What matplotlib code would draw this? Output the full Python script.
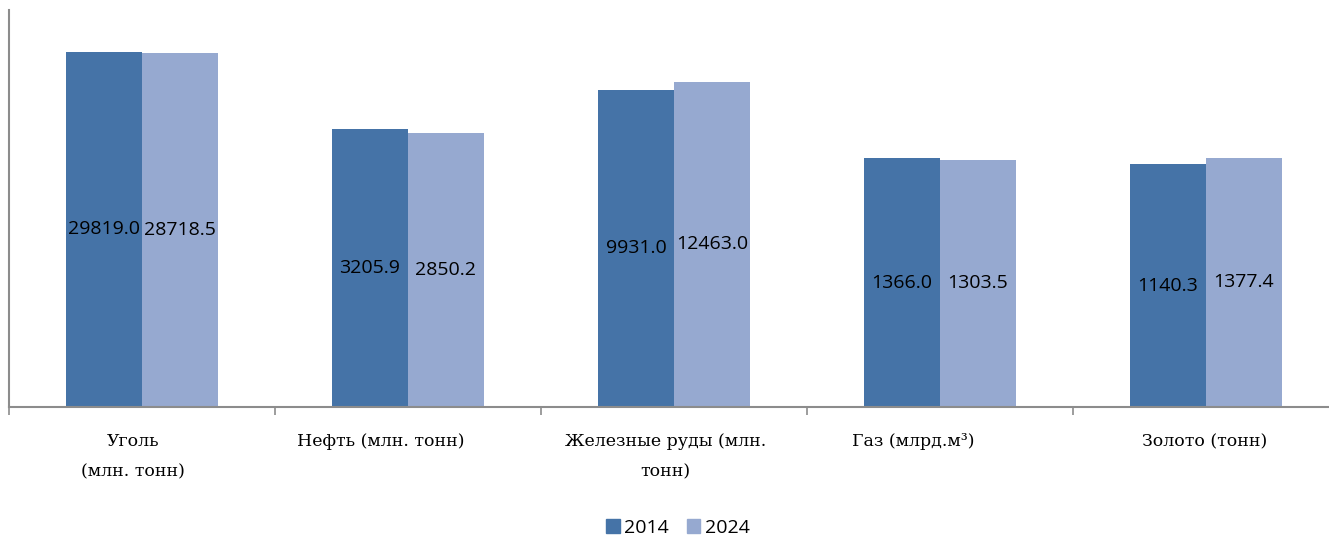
import matplotlib
matplotlib.use("Agg")
import matplotlib.pyplot as plt
import numpy as np
from matplotlib.patches import Patch

categories = ["Уголь\n(млн. тонн)", "Нефть (млн. тонн)", "Железные руды (млн.\nтонн)",
              "Газ (млрд.м³)", "Золото (тонн)"]
series_names = ["2014", "2024"]
values_2014 = [29819.0, 3205.9, 9931.0, 1366.0, 1140.3]
values_2024 = [28718.5, 2850.2, 12463.0, 1303.5, 1377.4]

colors = ["#4573A7", "#96A9D0"]
label_dx_px = [-9, -27, -8.5, -27, -1.5]

W, H = 1329, 537
fig = plt.figure(figsize=(W / 100, H / 100), dpi=100)
ax = fig.add_axes([9 / W, 1 - 407 / H, 1330 / W, 397 / H])

x = np.arange(len(categories))
bw = 76 / 266
for i, (vals, c) in enumerate(zip([values_2014, values_2024], colors)):
    xs = x + (i - 0.5) * bw
    ax.bar(xs, vals, width=bw, color=c, bottom=0, zorder=2, linewidth=0)
    for xi, v in zip(xs, vals):
        ax.text(xi, np.sqrt(v), f"{v:.1f}", ha="center", va="center",
                fontsize=14, family="Open Sans", color="#000000", zorder=3)

ax.set_yscale("log")
ax.set_ylim(1, 100000)
ax.set_xlim(-0.5, len(categories) - 0.5)
ax.set_yticks([])
ax.yaxis.set_minor_locator(matplotlib.ticker.NullLocator())
for s in ["top", "right"]:
    ax.spines[s].set_visible(False)
for s in ["left", "bottom"]:
    ax.spines[s].set_color("#8C8C8C")
    ax.spines[s].set_linewidth(1.5)

ax.set_xticks(x)
ax.set_xticklabels([""] * len(categories))
ax.tick_params(axis="x", which="major", length=0)
ax.set_xticks(np.arange(len(categories) + 1) - 0.5, minor=True)
ax.tick_params(axis="x", which="minor", length=6, width=1.2, color="#8C8C8C", direction="out")

for i, (lab, dx) in enumerate(zip(categories, label_dx_px)):
    ax.annotate(lab, xy=(i, 0), xycoords=("data", "axes fraction"),
                xytext=(dx * 0.72, -26 * 0.72), textcoords="offset points",
                ha="center", va="top", multialignment="center",
                family="DejaVu Serif", fontsize=12.5, linespacing=2.05)

handles = [Patch(color=c, label=n) for c, n in zip(colors, series_names)]
fig.legend(handles=handles, loc="center", bbox_to_anchor=(678 / W, 1 - 528 / H), ncol=2,
           frameon=False, prop={"family": "Open Sans", "size": 14},
           handlelength=0.7, handleheight=0.7, handletextpad=0.25, columnspacing=0.9)

fig.savefig("out.png", dpi=100)
